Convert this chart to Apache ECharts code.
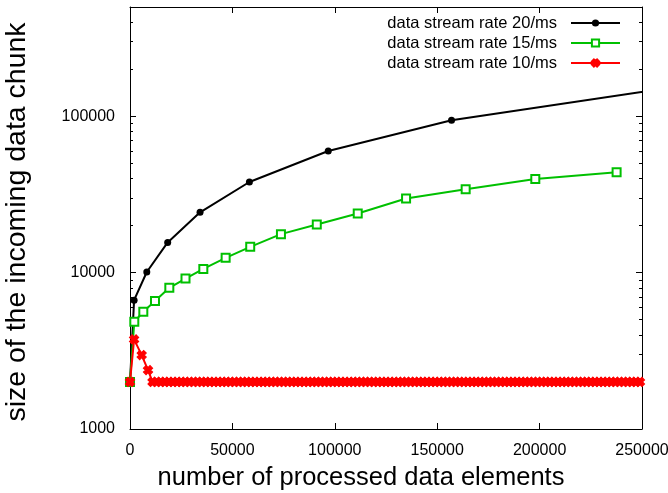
<!DOCTYPE html>
<html>
<head>
<meta charset="utf-8">
<script src="https://cdn.jsdelivr.net/npm/echarts@6/dist/echarts.min.js"></script>
<style>
html,body{margin:0;padding:0;background:#fff;}
#c{width:668px;height:493px;}
</style>
</head>
<body>
<div id="c"></div>
<script>
// ---- data ----
const seriesNames = ['data stream rate 20/ms', 'data stream rate 15/ms', 'data stream rate 10/ms'];

const blackX = [0, 2000, 8200, 18400, 34200, 58300, 96800, 157000, 253000];
const blackY = [2000, 6670, 10100, 15600, 24300, 38000, 60000, 94200, 145000];

const greenX = [0, 2100, 6500, 12200, 19200, 27100, 35800, 46700, 58700, 73700, 91200, 111200, 134800, 163900, 197900, 237600];
const greenY = [2000, 4850, 5620, 6580, 8000, 9160, 10570, 12430, 14630, 17630, 20320, 23880, 29800, 34200, 39730, 43840];

const redX = [0, 2000, 5700, 8800,
  11000, 13000, 15000, 17000, 19000, 21000, 23000, 25000, 27000, 29000,
  31000, 33000, 35000, 37000, 39000, 41000, 43000, 45000, 47000, 49000,
  51000, 53000, 55000, 57000, 59000, 61000, 63000, 65000, 67000, 69000,
  71000, 73000, 75000, 77000, 79000, 81000, 83000, 85000, 87000, 89000,
  91000, 93000, 95000, 97000, 99000, 101000, 103000, 105000, 107000, 109000,
  111000, 113000, 115000, 117000, 119000, 121000, 123000, 125000, 127000, 129000,
  131000, 133000, 135000, 137000, 139000, 141000, 143000, 145000, 147000, 149000,
  151000, 153000, 155000, 157000, 159000, 161000, 163000, 165000, 167000, 169000,
  171000, 173000, 175000, 177000, 179000, 181000, 183000, 185000, 187000, 189000,
  191000, 193000, 195000, 197000, 199000, 201000, 203000, 205000, 207000, 209000,
  211000, 213000, 215000, 217000, 219000, 221000, 223000, 225000, 227000, 229000,
  231000, 233000, 235000, 237000, 239000, 241000, 243000, 245000, 247000, 249000,
  251000];
const redY = [2000, 3740, 2970, 2380,
  2000, 2000, 2000, 2000, 2000, 2000, 2000, 2000, 2000, 2000,
  2000, 2000, 2000, 2000, 2000, 2000, 2000, 2000, 2000, 2000,
  2000, 2000, 2000, 2000, 2000, 2000, 2000, 2000, 2000, 2000,
  2000, 2000, 2000, 2000, 2000, 2000, 2000, 2000, 2000, 2000,
  2000, 2000, 2000, 2000, 2000, 2000, 2000, 2000, 2000, 2000,
  2000, 2000, 2000, 2000, 2000, 2000, 2000, 2000, 2000, 2000,
  2000, 2000, 2000, 2000, 2000, 2000, 2000, 2000, 2000, 2000,
  2000, 2000, 2000, 2000, 2000, 2000, 2000, 2000, 2000, 2000,
  2000, 2000, 2000, 2000, 2000, 2000, 2000, 2000, 2000, 2000,
  2000, 2000, 2000, 2000, 2000, 2000, 2000, 2000, 2000, 2000,
  2000, 2000, 2000, 2000, 2000, 2000, 2000, 2000, 2000, 2000,
  2000, 2000, 2000, 2000, 2000, 2000, 2000, 2000, 2000, 2000,
  2000];

const xTicks = [0, 50000, 100000, 150000, 200000, 250000];
const yMajorTicks = [1000, 10000, 100000];
const yMinorTicks = [2000, 3000, 4000, 5000, 6000, 7000, 8000, 9000,
  20000, 30000, 40000, 50000, 60000, 70000, 80000, 90000,
  200000, 300000, 400000];

const xTitle = 'number of processed data elements';
const yTitle = 'size of the incoming data chunk';

// ---- chart ----
const FONT = 'Liberation Sans, Arial, sans-serif';
const pair = (xs, ys) => xs.map((x, i) => [x, ys[i]]);
const X_PATH = 'path://M0,2.8L2.8,0L5,2.2L7.2,0L10,2.8L7.8,5L10,7.2L7.2,10L5,7.8L2.8,10L0,7.2L2.2,5Z';

const axisLineStyle = { color: '#000', width: 1 };

function xAx(pos, showLabel) {
  return {
    type: 'value', position: pos, min: 0, max: 250000, interval: 50000,
    axisLine: { show: true, onZero: false, lineStyle: axisLineStyle },
    axisTick: { show: true, inside: true, length: 6, lineStyle: axisLineStyle },
    axisLabel: { show: showLabel, color: '#000', fontSize: 16, fontFamily: FONT, margin: 14,
      customValues: xTicks, formatter: v => String(v) },
    splitLine: { show: false },
    name: showLabel ? xTitle : '', nameLocation: 'middle', nameGap: 36,
    nameTextStyle: { fontSize: 25.5, fontFamily: FONT, color: '#000', padding: [0, 50, 0, 0] }
  };
}
function yAx(pos, ticks, len, showLabel, showLine) {
  return {
    type: 'log', logBase: 10, position: pos, min: 1000, max: 500000,
    axisLine: { show: showLine, onZero: false, lineStyle: axisLineStyle },
    axisTick: { show: true, inside: true, length: len, customValues: ticks, lineStyle: axisLineStyle },
    axisLabel: { show: showLabel, color: '#000', fontSize: 16, fontFamily: FONT, margin: 15,
      customValues: yMajorTicks, formatter: v => String(v) },
    minorTick: { show: false },
    splitLine: { show: false },
    name: showLabel ? yTitle : '', nameLocation: 'middle', nameGap: 98, nameRotate: 90,
    nameTextStyle: { fontSize: 28.5, fontFamily: FONT, color: '#000', padding: [0, 8, 0, 0] }
  };
}

const chart = echarts.init(document.getElementById('c'), null, { renderer: 'canvas' });
chart.setOption({
  animation: false,
  backgroundColor: '#fff',
  grid: { left: 130, right: 26, top: 7, bottom: 64, containLabel: false, outerBoundsMode: 'none' },
  xAxis: [xAx('bottom', true), xAx('top', false)],
  yAxis: [
    yAx('left', yMajorTicks, 6, true, true),
    yAx('left', yMinorTicks, 3, false, false),
    yAx('right', yMajorTicks, 6, false, true),
    yAx('right', yMinorTicks, 3, false, false)
  ],
  legend: {
    orient: 'vertical', right: 47, top: 13, align: 'right', padding: 0,
    itemWidth: 49, itemHeight: 9, itemGap: 0,
    textStyle: { fontSize: 16.5, fontFamily: FONT, color: '#000', lineHeight: 20, padding: [0, 9, 0, 0] },
    data: seriesNames
  },
  series: [
    { name: seriesNames[0], type: 'line', data: pair(blackX, blackY), clip: true,
      symbol: 'circle', symbolSize: 7, showAllSymbol: true,
      lineStyle: { color: '#000', width: 2 }, itemStyle: { color: '#000' } },
    { name: seriesNames[1], type: 'line', data: pair(greenX, greenY), clip: true,
      symbol: 'emptyRect', symbolSize: 8, showAllSymbol: true,
      lineStyle: { color: '#00c000', width: 2 }, itemStyle: { color: '#00c000', borderColor: '#00c000', borderWidth: 1.6 } },
    { name: seriesNames[2], type: 'line', data: pair(redX, redY), clip: true,
      symbol: X_PATH, symbolSize: 9, showAllSymbol: true,
      lineStyle: { color: '#ff0000', width: 2 },
      itemStyle: { color: '#ff0000', borderColor: '#ff0000', borderWidth: 1.2 } }
  ]
});
</script>
</body>
</html>
